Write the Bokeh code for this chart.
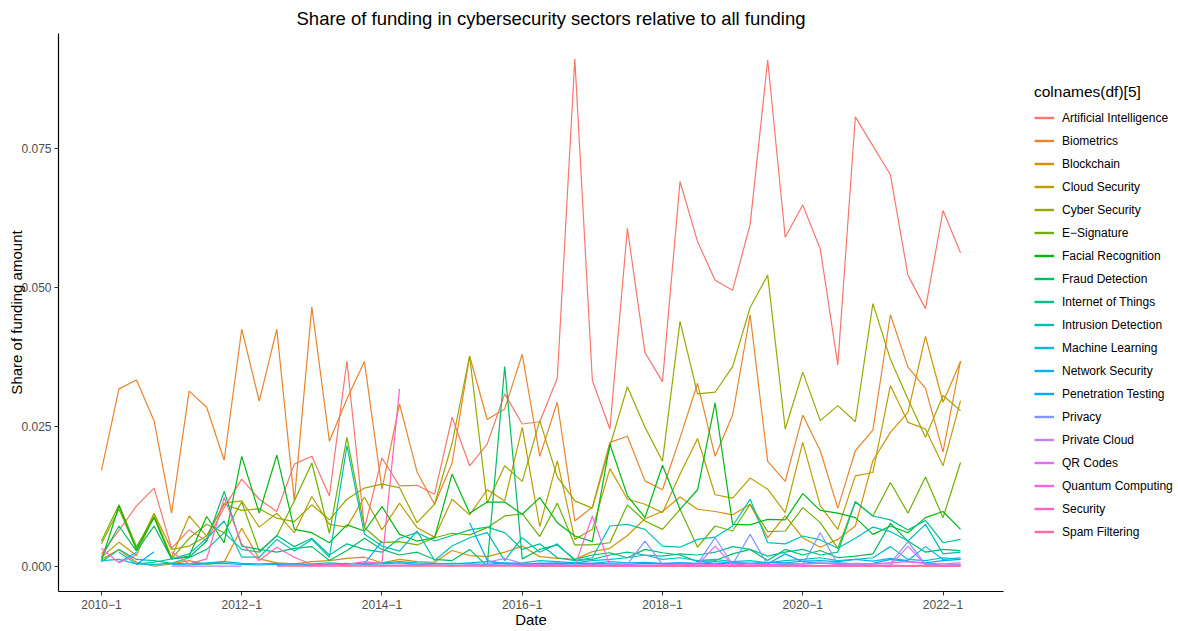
import math
import numpy as np
from bokeh.plotting import figure
from bokeh.layouts import row
from bokeh.models import ColumnDataSource, Legend, LegendItem, FixedTicker, Range1d, NumeralTickFormatter
from bokeh.embed import file_html
from bokeh.resources import INLINE

nan = float("nan")

# ---------------- data ----------------
quarters = [f"{y}\u2212{q}" for y in range(2010, 2023) for q in range(1, 5)][:50]
tick_positions = [0, 8, 16, 24, 32, 40, 48]
tick_labels = ["2010\u22121", "2012\u22121", "2014\u22121", "2016\u22121", "2018\u22121", "2020\u22121", "2022\u22121"]

artificial_intelligence = [
    0.0022, 0.0064, 0.0108, 0.0140, 0.0032, 0.0065, 0.0045, 0.0105, 0.0156, 0.0120,
    0.0098, 0.0183, 0.0197, 0.0126, 0.0368, 0.0068, 0.0194, 0.0144, 0.0145, 0.0129,
    0.0267, 0.0180, 0.0219, 0.0309, 0.0255, 0.0259, 0.0337, 0.0910, 0.0333, 0.0246,
    0.0606, 0.0383, 0.0331, 0.0690, 0.0582, 0.0513, 0.0495, 0.0613, 0.0908, 0.0590,
    0.0648, 0.0569, 0.0361, 0.0806, 0.0754, 0.0702, 0.0522, 0.0462, 0.0638, 0.0562]
biometrics = [
    0.0172, 0.0318, 0.0334, 0.0261, 0.0095, 0.0314, 0.0285, 0.0190, 0.0425, 0.0296,
    0.0425, 0.0117, 0.0465, 0.0224, 0.0300, 0.0367, 0.0138, 0.0291, 0.0169, 0.0111,
    0.0185, 0.0377, 0.0263, 0.0282, 0.0380, 0.0197, 0.0294, 0.0081, 0.0106, 0.0222,
    0.0233, 0.0153, 0.0137, 0.0230, 0.0328, 0.0197, 0.0271, 0.0451, 0.0188, 0.0152,
    0.0271, 0.0207, 0.0104, 0.0207, 0.0244, 0.0451, 0.0357, 0.0319, 0.0205, 0.0368]
blockchain = [
    0.0012, 0.0030, 0.0007, 0.0000, 0.0004, 0.0010, 0.0003, 0.0008, 0.0068, 0.0013,
    0.0006, 0.0004, 0.0008, 0.0010, 0.0014, 0.0016, 0.0006, 0.0012, 0.0008, 0.0007,
    0.0028, 0.0019, 0.0017, 0.0025, 0.0036, 0.0017, 0.0014, 0.0012, 0.0026, 0.0032,
    0.0055, 0.0085, 0.0098, 0.0124, 0.0102, 0.0098, 0.0092, 0.0111, 0.0051, 0.0090,
    0.0051, 0.0034, 0.0048, 0.0072, 0.0189, 0.0240, 0.0276, 0.0412, 0.0294, 0.0367]
cloud_security = [
    0.0016, 0.0043, 0.0019, 0.0093, 0.0016, 0.0090, 0.0054, 0.0113, 0.0117, 0.0070,
    0.0095, 0.0060, 0.0125, 0.0075, 0.0070, 0.0124, 0.0065, 0.0113, 0.0069, 0.0052,
    0.0120, 0.0092, 0.0137, 0.0117, 0.0249, 0.0071, 0.0189, 0.0048, 0.0066, 0.0175,
    0.0120, 0.0111, 0.0096, 0.0165, 0.0229, 0.0128, 0.0122, 0.0158, 0.0138, 0.0096,
    0.0222, 0.0108, 0.0066, 0.0162, 0.0168, 0.0324, 0.0258, 0.0246, 0.0180, 0.0297]
cyber_security = [
    0.0040, 0.0102, 0.0030, 0.0095, 0.0030, 0.0036, 0.0054, 0.0111, 0.0100, 0.0103,
    0.0086, 0.0080, 0.0110, 0.0083, 0.0120, 0.0140, 0.0147, 0.0141, 0.0078, 0.0111,
    0.0220, 0.0377, 0.0113, 0.0180, 0.0152, 0.0261, 0.0160, 0.0117, 0.0104, 0.0215,
    0.0322, 0.0249, 0.0188, 0.0439, 0.0309, 0.0312, 0.0358, 0.0464, 0.0522, 0.0246,
    0.0348, 0.0261, 0.0288, 0.0259, 0.0471, 0.0371, 0.0300, 0.0231, 0.0306, 0.0279]
e_signature = [
    0.0045, 0.0110, 0.0035, 0.0088, 0.0013, 0.0050, 0.0075, 0.0060, 0.0115, 0.0027,
    0.0054, 0.0117, 0.0185, 0.0059, 0.0231, 0.0069, 0.0042, 0.0044, 0.0038, 0.0051,
    0.0059, 0.0056, 0.0069, 0.0090, 0.0094, 0.0053, 0.0113, 0.0038, 0.0038, 0.0042,
    0.0110, 0.0081, 0.0066, 0.0102, 0.0034, 0.0072, 0.0063, 0.0111, 0.0062, 0.0063,
    0.0105, 0.0078, 0.0032, 0.0116, 0.0090, 0.0150, 0.0095, 0.0160, 0.0087, 0.0186]
facial_recognition = [
    0.0010, 0.0108, 0.0030, 0.0087, 0.0013, 0.0018, 0.0089, 0.0042, 0.0197, 0.0095,
    0.0199, 0.0066, 0.0060, 0.0042, 0.0074, 0.0063, 0.0107, 0.0057, 0.0045, 0.0051,
    0.0165, 0.0095, 0.0115, 0.0115, 0.0093, 0.0123, 0.0078, 0.0054, 0.0044, 0.0219,
    0.0126, 0.0087, 0.0181, 0.0102, 0.0137, 0.0293, 0.0075, 0.0074, 0.0084, 0.0083,
    0.0130, 0.0100, 0.0095, 0.0087, 0.0057, 0.0072, 0.0060, 0.0087, 0.0098, 0.0066]
fraud_detection = [
    0.0016, 0.0072, 0.0027, 0.0072, 0.0013, 0.0016, 0.0045, 0.0134, 0.0036, 0.0030,
    0.0025, 0.0032, 0.0035, 0.0010, 0.0028, 0.0050, 0.0030, 0.0020, 0.0025, 0.0012,
    0.0010, 0.0030, 0.0000, 0.0358, 0.0013, 0.0030, 0.0038, 0.0012, 0.0020, 0.0024,
    0.0015, 0.0030, 0.0024, 0.0020, 0.0008, 0.0010, 0.0022, 0.0030, 0.0010, 0.0030,
    0.0020, 0.0028, 0.0015, 0.0018, 0.0022, 0.0077, 0.0045, 0.0025, 0.0030, 0.0028]
internet_of_things = [
    0.0008, 0.0030, 0.0012, 0.0010, 0.0005, 0.0015, 0.0030, 0.0060, 0.0030, 0.0025,
    0.0055, 0.0035, 0.0050, 0.0020, 0.0040, 0.0030, 0.0025, 0.0050, 0.0060, 0.0045,
    0.0055, 0.0065, 0.0070, 0.0060, 0.0030, 0.0040, 0.0015, 0.0010, 0.0012, 0.0020,
    0.0025, 0.0020, 0.0018, 0.0022, 0.0020, 0.0025, 0.0035, 0.0030, 0.0018, 0.0025,
    0.0030, 0.0020, 0.0025, 0.0115, 0.0090, 0.0083, 0.0065, 0.0082, 0.0042, 0.0048]
intrusion_detection = [
    nan, 0.0025, 0.0004, 0.0007, 0.0013, 0.0022, 0.0050, 0.0081, 0.0016, 0.0016,
    0.0048, 0.0027, 0.0048, 0.0016, 0.0216, 0.0057, 0.0036, 0.0027, 0.0063, 0.0010,
    0.0036, 0.0051, 0.0060, 0.0010, 0.0051, 0.0025, 0.0040, 0.0010, 0.0015, 0.0072,
    0.0075, 0.0066, 0.0036, 0.0034, 0.0048, 0.0052, 0.0072, 0.0120, 0.0042, 0.0040,
    0.0054, 0.0047, 0.0032, 0.0050, 0.0070, 0.0062, 0.0045, 0.0075, 0.0022, 0.0025]
machine_learning = [
    0.0010, 0.0012, 0.0004, 0.0003, 0.0005, 0.0004, 0.0006, 0.0008, 0.0005, 0.0004,
    0.0005, 0.0003, 0.0004, 0.0006, 0.0004, 0.0005, 0.0006, 0.0008, 0.0006, 0.0005,
    0.0004, 0.0006, 0.0008, 0.0005, 0.0006, 0.0010, 0.0008, 0.0006, 0.0010, 0.0012,
    0.0015, 0.0020, 0.0012, 0.0015, 0.0010, 0.0012, 0.0008, 0.0010, 0.0006, 0.0010,
    0.0012, 0.0015, 0.0010, 0.0012, 0.0015, 0.0035, 0.0012, 0.0010, 0.0015, 0.0012]
network_security = [
    nan, 0.0007, 0.0025, nan, 0.0003, 0.0002, 0.0004, 0.0005, 0.0003, 0.0002,
    0.0003, 0.0004, 0.0002, 0.0003, 0.0005, 0.0003, 0.0004, 0.0006, 0.0003, 0.0004,
    0.0005, 0.0004, 0.0003, 0.0006, 0.0004, 0.0005, 0.0006, 0.0004, 0.0005, 0.0008,
    0.0006, 0.0007, 0.0005, 0.0006, 0.0004, 0.0008, 0.0006, 0.0005, 0.0007, 0.0006,
    0.0009, 0.0010, 0.0008, 0.0012, 0.0009, 0.0014, 0.0010, 0.0035, 0.0012, 0.0015]
penetration_testing = [
    nan, nan, 0.0003, 0.0026, nan, nan, nan, nan, nan, nan,
    nan, nan, nan, nan, nan, 0.0004, 0.0045, nan, nan, nan,
    nan, 0.0078, 0.0010, 0.0004, 0.0003, 0.0005, 0.0004, 0.0006, 0.0005, 0.0004,
    0.0003, 0.0005, 0.0004, 0.0006, 0.0005, 0.0004, 0.0006, 0.0005, 0.0004, 0.0022,
    0.0008, 0.0005, 0.0006, 0.0004, 0.0005, 0.0012, 0.0008, 0.0006, 0.0010, 0.0012]
privacy = [
    nan, nan, nan, nan, nan, nan, nan, nan, nan, nan,
    nan, nan, nan, nan, nan, nan, 0.0002, 0.0001, 0.0003, 0.0002,
    0.0001, 0.0002, 0.0003, 0.0002, 0.0001, 0.0002, 0.0003, 0.0002, 0.0003, 0.0004,
    0.0003, 0.0045, 0.0003, 0.0002, 0.0004, 0.0051, 0.0003, 0.0057, 0.0002, 0.0003,
    0.0002, 0.0060, 0.0003, 0.0002, 0.0004, 0.0005, 0.0044, 0.0003, 0.0002, 0.0003]
private_cloud = [
    nan, nan, nan, nan, 0.0000, 0.0000, 0.0000, 0.0000, 0.0000, nan,
    nan, nan, nan, nan, nan, nan, nan, nan, nan, nan,
    nan, nan, 0.0007, 0.0014, 0.0005, 0.0002, 0.0001, 0.0001, 0.0002, 0.0001,
    0.0001, 0.0002, 0.0001, 0.0002, 0.0001, 0.0002, 0.0001, 0.0001, 0.0002, 0.0001,
    0.0002, 0.0001, 0.0001, 0.0002, 0.0001, 0.0002, 0.0001, 0.0002, 0.0001, 0.0001]
qr_codes = [
    nan, nan, nan, nan, nan, nan, nan, nan, nan, nan,
    0.0001, 0.0002, 0.0001, 0.0002, 0.0001, 0.0002, 0.0001, 0.0002, 0.0001, 0.0002,
    0.0001, 0.0002, 0.0001, 0.0001, 0.0002, 0.0001, 0.0002, 0.0001, 0.0002, 0.0001,
    0.0002, 0.0001, 0.0002, 0.0001, 0.0002, 0.0036, 0.0002, 0.0001, 0.0002, 0.0001,
    0.0002, 0.0001, 0.0002, 0.0001, 0.0002, 0.0001, 0.0036, 0.0002, 0.0001, 0.0002]
quantum_computing = [
    nan, nan, nan, nan, nan, nan, nan, nan, nan, nan,
    nan, nan, nan, nan, nan, nan, nan, nan, nan, nan,
    nan, nan, nan, nan, 0.0001, 0.0002, 0.0001, 0.0000, 0.0090, 0.0001,
    0.0002, 0.0001, 0.0002, 0.0004, 0.0002, 0.0003, 0.0002, 0.0004, 0.0003, 0.0005,
    0.0004, 0.0006, 0.0003, 0.0005, 0.0004, 0.0006, 0.0008, 0.0005, 0.0004, 0.0006]
security = [
    0.0032, 0.0006, 0.0020, nan, 0.0026, 0.0004, 0.0013, 0.0123, 0.0040, 0.0010,
    0.0034, 0.0016, 0.0003, 0.0002, 0.0003, 0.0008, 0.0005, 0.0318, nan, nan,
    nan, nan, nan, nan, 0.0000, 0.0000, 0.0000, 0.0000, 0.0000, 0.0000,
    0.0000, 0.0000, 0.0000, 0.0000, 0.0000, 0.0000, 0.0000, 0.0000, 0.0000, 0.0000,
    0.0000, 0.0000, 0.0000, 0.0000, 0.0000, 0.0000, 0.0000, 0.0000, 0.0000, 0.0000]
spam_filtering = [
    nan, nan, nan, nan, nan, nan, nan, nan, nan, nan,
    0.0000, 0.0000, 0.0000, 0.0000, 0.0000, 0.0000, 0.0000, 0.0000, 0.0000, 0.0000,
    0.0000, 0.0000, 0.0000, 0.0000, 0.0000, 0.0000, 0.0000, 0.0000, 0.0000, 0.0000,
    0.0000, 0.0000, 0.0000, 0.0000, 0.0000, 0.0000, 0.0000, 0.0000, 0.0000, 0.0000,
    0.0000, 0.0000, 0.0000, 0.0000, 0.0000, 0.0000, 0.0000, 0.0000, 0.0000, 0.0000]

series_names = [
    "Artificial Intelligence", "Biometrics", "Blockchain", "Cloud Security", "Cyber Security",
    "E\u2212Signature", "Facial Recognition", "Fraud Detection", "Internet of Things",
    "Intrusion Detection", "Machine Learning", "Network Security", "Penetration Testing",
    "Privacy", "Private Cloud", "QR Codes", "Quantum Computing", "Security", "Spam Filtering"]
series_values = [
    artificial_intelligence, biometrics, blockchain, cloud_security, cyber_security,
    e_signature, facial_recognition, fraud_detection, internet_of_things,
    intrusion_detection, machine_learning, network_security, penetration_testing,
    privacy, private_cloud, qr_codes, quantum_computing, security, spam_filtering]


# ---------------- ggplot-like hue palette ----------------
def hcl_hex(h, c=100.0, l=65.0):
    WX, WY, WZ = 95.047, 100.000, 108.883
    t = WX + WY + WZ
    x, y = WX / t, WY / t
    un = 2 * x / (6 * y - x + 1.5)
    vn = 4.5 * y / (6 * y - x + 1.5)
    hr = math.radians(h)
    U, V = c * math.cos(hr), c * math.sin(hr)
    Y = WY * (((l + 16) / 116) ** 3 if l > 7.999592 else l / 903.3)
    u = U / (13 * l) + un
    v = V / (13 * l) + vn
    X = 9.0 * Y * u / (4 * v)
    Z = -X / 3 - 5 * Y + 3 * Y / v

    def g(a):
        return 1.055 * a ** (1 / 2.4) - 0.055 if a > 0.00304 else 12.92 * a

    r = g((3.240479 * X - 1.537150 * Y - 0.498535 * Z) / WY)
    gg = g((-0.969256 * X + 1.875992 * Y + 0.041556 * Z) / WY)
    b = g((0.055648 * X - 0.204043 * Y + 1.057311 * Z) / WY)
    cl = lambda a: int(round(255 * min(1.0, max(0.0, a))))
    return "#%02X%02X%02X" % (cl(r), cl(gg), cl(b))


n = len(series_names)
hues = [15 + i * 360.0 / n for i in range(n)]
colors = [hcl_hex(h) for h in hues]

# ---------------- main figure ----------------
H = 630
BL, BR, BT, BB = 58, 5, 26, 0
FW = 945
W1 = BL + FW + BR
W2 = 170
xs = list(range(len(quarters)))
all_vals = [v for s in series_values for v in s if not math.isnan(v)]
ymin, ymax = min(all_vals), max(all_vals)
yr = ymax - ymin
xr = xs[-1] - xs[0]

p = figure(width=W1, height=H, output_backend="svg", toolbar_location=None,
           x_range=Range1d(xs[0] - 0.05 * xr, xs[-1] + 0.05 * xr),
           y_range=Range1d(ymin - 0.05 * yr, ymax + 0.05 * yr),
           min_border_left=BL, min_border_top=BT, min_border_bottom=BB, min_border_right=BR)
p.background_fill_color = "white"
p.border_fill_color = "white"
p.outline_line_color = None
p.xgrid.visible = False
p.ygrid.visible = False

p.title.text = "Share of funding in cybersecurity sectors relative to all funding"
p.title.align = "left"
p.title.text_font = "Liberation Sans"
p.title.text_font_size = "18.5px"
p.title.text_font_style = "normal"
p.title.text_color = "black"
p.title.offset = 238

for name, vals, col in zip(series_names, series_values, colors):
    src = ColumnDataSource(dict(x=xs, y=np.array(vals, dtype=float)))
    p.line("x", "y", source=src, line_color=col, line_width=1.2)

for ax in (p.xaxis[0], p.yaxis[0]):
    ax.axis_line_color = "black"
    ax.axis_line_width = 1.2
    ax.major_tick_line_color = "#333333"
    ax.major_tick_out = 4
    ax.major_tick_in = 0
    ax.minor_tick_line_color = None
    ax.major_label_text_font = "Liberation Sans"
    ax.major_label_text_font_size = "12px"
    ax.major_label_text_color = "#4D4D4D"
    ax.axis_label_text_font = "Liberation Sans"
    ax.axis_label_text_font_size = "15px"
    ax.axis_label_text_font_style = "normal"
    ax.axis_label_text_color = "black"

p.xaxis.ticker = FixedTicker(ticks=tick_positions)
p.xaxis.major_label_overrides = {t: lab for t, lab in zip(tick_positions, tick_labels)}
p.xaxis.axis_label = "Date"
p.xaxis.major_label_standoff = 4
p.xaxis.axis_label_standoff = -1

p.yaxis.ticker = FixedTicker(ticks=[0.0, 0.025, 0.05, 0.075])
p.yaxis.formatter = NumeralTickFormatter(format="0.000")
p.yaxis.axis_label = "Share of funding amount"
p.yaxis.major_label_standoff = 3
p.yaxis.axis_label_standoff = -7

# ---------------- legend figure ----------------
q = figure(width=W2, height=H, output_backend="svg", toolbar_location=None,
           x_range=Range1d(0, 1), y_range=Range1d(0, 1),
           x_axis_location=None, y_axis_location=None, min_border=0)
q.outline_line_color = None
q.xgrid.visible = False
q.ygrid.visible = False
q.background_fill_color = "white"
q.border_fill_color = "white"

legend_items = []
for name, col in zip(series_names, colors):
    r = q.line(x=[nan], y=[nan], line_color=col, line_width=2.4)
    legend_items.append(LegendItem(label=name, renderers=[r]))

legend = Legend(items=legend_items, title="colnames(df)[5]", location=(26, 48))
legend.title_text_font = "Liberation Sans"
legend.title_text_font_size = "15.5px"
legend.title_text_font_style = "normal"
legend.title_text_color = "black"
legend.title_standoff = 5
legend.label_text_font = "Liberation Sans"
legend.label_text_font_size = "12px"
legend.label_text_color = "black"
legend.glyph_width = 20
legend.glyph_height = 23
legend.label_height = 23
legend.label_standoff = 8
legend.spacing = 0
legend.padding = 4
legend.margin = 0
legend.border_line_color = None
legend.background_fill_alpha = 0
q.add_layout(legend, "center")

layout = row(p, q, spacing=0)
open("out.html", "w").write(file_html(layout, INLINE))
